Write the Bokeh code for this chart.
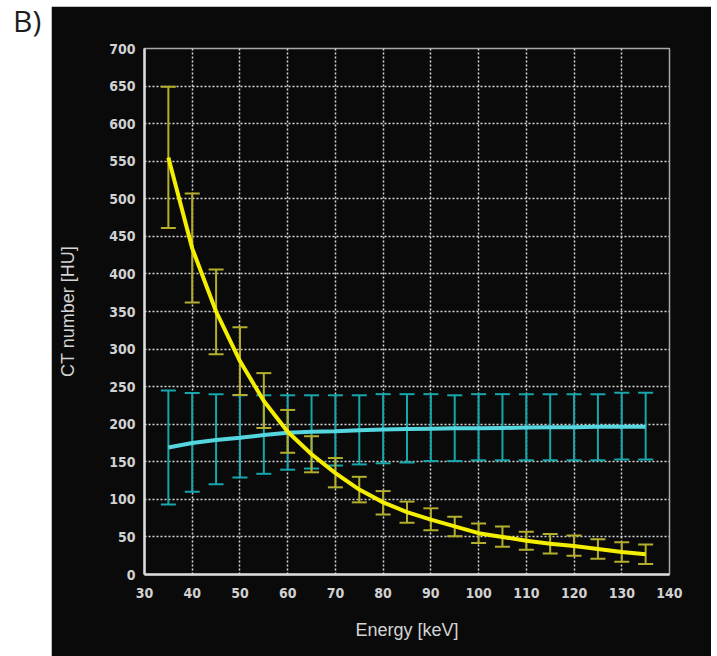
from bokeh.plotting import figure
from bokeh.layouts import row
from bokeh.models import (ColumnDataSource, Whisker, TeeHead, FixedTicker,
                          Range1d, Div)
from bokeh.embed import file_html
from bokeh.resources import INLINE

# ---- data ----
energy = [35, 40, 45, 50, 55, 60, 65, 70, 75, 80, 85, 90, 95, 100, 105, 110, 115, 120, 125, 130, 135]

yellow_mean = [555, 434, 350, 284, 231, 190, 160, 135, 113, 96, 83, 73, 64, 55, 50, 45, 41, 38, 34, 30, 27]
yellow_upper = [649, 507, 406, 329, 268, 219, 184, 155, 130, 111, 97, 88, 77, 68, 64, 57, 54, 52, 47, 43, 40]
yellow_lower = [461, 362, 293, 239, 195, 162, 136, 116, 96, 80, 69, 59, 51, 42, 37, 33, 28, 25, 21, 17, 14]

cyan_mean = [169, 175, 179, 182, 185.5, 188.5, 190, 190.5, 192, 193, 193.5, 194, 194.5, 194.5, 195, 195.5, 196, 196, 196.5, 196.5, 196.5]
cyan_upper = [245, 241.5, 240, 238.5, 238.5, 238.5, 238.5, 238.5, 238.5, 240, 240, 240, 238.5, 240, 240, 240, 240, 240, 240, 242, 242]
cyan_lower = [93, 110, 120, 129, 134, 139.5, 141, 145, 146.5, 148, 149, 151, 151, 152, 152, 152, 152, 152, 152, 153, 153]

x_ticks = [30, 40, 50, 60, 70, 80, 90, 100, 110, 120, 130, 140]
y_ticks = [0, 50, 100, 150, 200, 250, 300, 350, 400, 450, 500, 550, 600, 650, 700]

panel_title = "B)"
x_title = "Energy [keV]"
y_title = "CT number [HU]"

# ---- figure (the black panel) ----
p = figure(width=660, height=650, output_backend="svg", toolbar_location=None,
           x_range=Range1d(30, 140), y_range=Range1d(0, 700),
           min_border_left=93, min_border_right=42, min_border_top=42,
           min_border_bottom=82, styles={"margin-top": "6px"})

p.border_fill_color = "#0a0a0a"
p.background_fill_color = "#0a0a0a"
p.outline_line_color = "#a8a8a8"
p.outline_line_width = 1.5

# axes
tick_font = "'Liberation Sans Narrow', 'DejaVu Sans Condensed', sans-serif"
for ax in (p.xaxis[0], p.yaxis[0]):
    ax.axis_line_color = "#dcdcdc"
    ax.axis_line_width = 2.5
    ax.major_tick_out = 0
    ax.major_tick_in = 0
    ax.minor_tick_out = 0
    ax.minor_tick_in = 0
    ax.major_label_text_color = "#d2d2d2"
    ax.major_label_text_font = tick_font
    ax.major_label_text_font_size = "14px"
    ax.major_label_text_font_style = "bold"
    ax.axis_label_text_color = "#d4d4d4"
    ax.axis_label_text_font = "Liberation Sans"
    ax.axis_label_text_font_size = "18px"
    ax.axis_label_text_font_style = "normal"

p.xaxis.ticker = FixedTicker(ticks=x_ticks)
p.yaxis.ticker = FixedTicker(ticks=y_ticks)
p.xaxis.axis_label = x_title
p.yaxis.axis_label = y_title
p.xaxis.major_label_standoff = 13
p.xaxis.axis_label_standoff = 19
p.yaxis.major_label_standoff = 9
p.yaxis.axis_label_standoff = 28

# grid
for g in (p.xgrid[0], p.ygrid[0]):
    g.grid_line_color = "#d8d8d8"
    g.grid_line_width = 1.5
    g.grid_line_dash = "2 2"
p.xgrid.ticker = FixedTicker(ticks=x_ticks[1:-1])
p.ygrid.ticker = FixedTicker(ticks=y_ticks[1:-1])

# error bars
cyan_src = ColumnDataSource(dict(x=energy, m=cyan_mean, up=cyan_upper, lo=cyan_lower))
yel_src = ColumnDataSource(dict(x=energy, m=yellow_mean, up=yellow_upper, lo=yellow_lower))

cw = Whisker(source=cyan_src, base="x", upper="up", lower="lo",
             line_color="#17a6ab", line_width=2, level="underlay",
             upper_head=TeeHead(size=15, line_color="#17a6ab", line_width=2),
             lower_head=TeeHead(size=15, line_color="#17a6ab", line_width=2))
p.add_layout(cw)
yw = Whisker(source=yel_src, base="x", upper="up", lower="lo",
             line_color="#b3af2c", line_width=2, level="underlay",
             upper_head=TeeHead(size=15, line_color="#b3af2c", line_width=2),
             lower_head=TeeHead(size=15, line_color="#b3af2c", line_width=2))
p.add_layout(yw)

# curves
p.line("x", "m", source=cyan_src, line_color="#55d6df", line_width=4)
p.line("x", "m", source=yel_src, line_color="#f4ef00", line_width=4)

# panel letter (white strip on the left)
letter = Div(text=panel_title, width=51, height=60, margin=0,
             styles={"font-family": "'Open Sans', sans-serif", "font-size": "30px",
                     "line-height": "42px", "color": "#1e1e1e",
                     "padding-left": "13px", "padding-top": "0px",
                     "box-sizing": "border-box", "overflow": "visible"})

layout = row(letter, p, spacing=0)

open("out.html", "w").write(file_html(layout, INLINE))
